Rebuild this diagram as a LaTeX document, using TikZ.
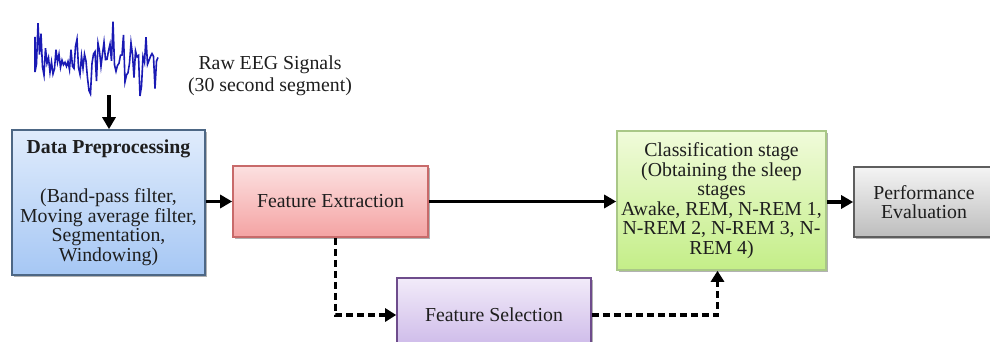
\documentclass[tikz,border=0pt]{standalone}
\usepackage{fontspec}
\setmainfont{Liberation Serif}
\usetikzlibrary{arrows.meta,shadows}
\definecolor{txt}{HTML}{1E1E1E}
\definecolor{eeg}{HTML}{1A1AB4}
\definecolor{dpT}{HTML}{E0ECFC}\definecolor{dpB}{HTML}{A6C7F4}\definecolor{dpD}{HTML}{4D6785}
\definecolor{feT}{HTML}{FCE0E0}\definecolor{feB}{HTML}{F4A3A3}\definecolor{feD}{HTML}{C86A6A}
\definecolor{fsT}{HTML}{F2EBF9}\definecolor{fsB}{HTML}{CBB7E8}\definecolor{fsD}{HTML}{6E4C8C}
\definecolor{clT}{HTML}{F0FBDA}\definecolor{clB}{HTML}{C4EE88}\definecolor{clD}{HTML}{A9C787}
\definecolor{peT}{HTML}{F4F4F4}\definecolor{peB}{HTML}{BDBDBD}\definecolor{peD}{HTML}{5E5E5E}
\tikzset{
  stagebox/.style={draw, line width=1.6pt, inner sep=0pt, align=center, text=txt,
    font=\fontsize{19.8}{19.5}\selectfont,
    drop shadow={shadow xshift=2pt, shadow yshift=-2pt, opacity=0.3, fill=black}},
  solidarrow/.style={line width=3.2pt, -{Triangle[length=12pt,width=13pt]}},
  dasharrow/.style={line width=3.2pt, dash pattern=on 7pt off 4pt, -{Triangle[length=11pt,width=13pt]}},
  eegline/.style={eeg, line width=1.6pt, line join=miter}
}
\begin{document}
\begin{tikzpicture}[x=1pt,y=-1pt]
\useasboundingbox (0,0) rectangle (990,342);
\clip (0,0) rectangle (990,342);
\fill[white] (0,0) rectangle (990,342);

% EEG signal
\pgfmathsetseed{5}
\draw[eegline] (35,37) -- (35,72) \foreach \i in {1,...,82}{
  \pgfextra{\pgfmathsetmacro\r{rand}\pgfmathsetmacro\yy{60+10*rand+40*\r*\r*\r}}
  -- ({35+\i*1.5},\yy) };
\coordinate (sig) at (109,95);

\node[text=txt, align=center, font=\fontsize{19.8}{22.5}\selectfont] (raw) at (270,76)
  {Raw EEG Signals\\(30 second segment)};

% boxes
\node[stagebox, top color=dpT, bottom color=dpB, draw=dpD,
  minimum width=193pt, minimum height=145pt] (dp) at (108.5,202.5)
  {\textbf{Data Preprocessing}\\[30pt](Band-pass filter,\\Moving average filter,\\Segmentation,\\Windowing)};
\node[stagebox, top color=feT, bottom color=feB, draw=feD,
  minimum width=195pt, minimum height=71pt] (fe) at (330.5,201.5) {Feature Extraction};
\node[stagebox, top color=fsT, bottom color=fsB, draw=fsD,
  minimum width=194pt, minimum height=74pt] (fs) at (494,315) {Feature Selection};
\node[stagebox, top color=clT, bottom color=clB, draw=clD,
  minimum width=209pt, minimum height=139pt] (cl) at (721.5,200.5)
  {Classification stage\\(Obtaining the sleep\\stages\\Awake, REM, N-REM 1,\\N-REM 2, N-REM 3, N-\\REM 4)};
\node[stagebox, top color=peT, bottom color=peB, draw=peD,
  minimum width=140pt, minimum height=70pt] (pe) at (924,202) {Performance\\Evaluation};

% connectors
\draw[solidarrow] (sig) -- (sig |- dp.north);
\draw[solidarrow] (dp.east |- fe.west) -- (fe.west);
\draw[solidarrow] (fe.east) -- (fe.east -| cl.west);
\draw[solidarrow] (cl.east |- pe.west) -- (pe.west);
\draw[dasharrow] ([xshift=5pt]fe.south) |- (fs.west);
\draw[dasharrow] (fs.east) -| ([xshift=-4pt]cl.south);
\end{tikzpicture}
\end{document}
